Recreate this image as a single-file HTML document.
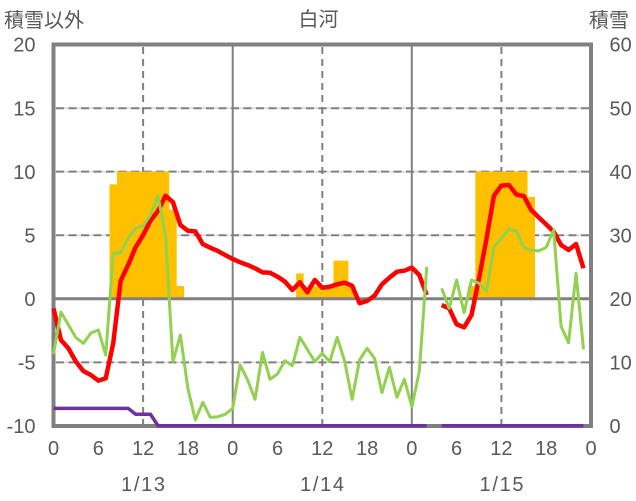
<!DOCTYPE html>
<html>
<head>
<meta charset="utf-8">
<style>
html,body{margin:0;padding:0;background:#fff;}
body{width:636px;height:501px;overflow:hidden;}
svg{display:block;}
text{font-family:"Liberation Sans","Noto Sans CJK JP",sans-serif;fill:#595959;}
</style>
</head>
<body>
<svg width="636" height="501" viewBox="0 0 636 501" xmlns="http://www.w3.org/2000/svg">
  <rect x="0" y="0" width="636" height="501" fill="#fff"/>

  <!-- light horizontal gridlines -->
  <g stroke="#d9d9d9" stroke-width="1.5">
    <line x1="53.5" y1="108.2" x2="591" y2="108.2"/>
    <line x1="53.5" y1="171.6" x2="591" y2="171.6"/>
    <line x1="53.5" y1="235.2" x2="591" y2="235.2"/>
    <line x1="53.5" y1="362.4" x2="591" y2="362.4"/>
  </g>
  <!-- dashed horizontal gridlines -->
  <g stroke="#808080" stroke-width="2" stroke-dasharray="8,4.5">
    <line x1="56" y1="108.2" x2="591" y2="108.2"/>
    <line x1="56" y1="171.6" x2="591" y2="171.6"/>
    <line x1="56" y1="235.2" x2="591" y2="235.2"/>
    <line x1="56" y1="362.4" x2="591" y2="362.4"/>
  </g>
  <!-- dashed vertical lines at 12h -->
  <g stroke="#808080" stroke-width="2" stroke-dasharray="7,5">
    <line x1="143.1" y1="47" x2="143.1" y2="426"/>
    <line x1="322.3" y1="47" x2="322.3" y2="426"/>
    <line x1="501.4" y1="47" x2="501.4" y2="426"/>
  </g>
  <!-- solid vertical day lines -->
  <g stroke="#808080" stroke-width="2">
    <line x1="232.7" y1="44.5" x2="232.7" y2="426"/>
    <line x1="411.8" y1="44.5" x2="411.8" y2="426"/>
  </g>

  <!-- data group: x = hour, y = left-axis value -->
  <g transform="matrix(7.465,0,0,-12.72,53.5,298.8)">
    <!-- snow depth bars -->
    <g fill="#FFC000">
      <polygon points="7.5,0 7.5,9 8.5,9 8.5,10 15.5,10 15.5,7 16.5,7 16.5,1 17.5,1 17.5,0"/>
      <polygon points="32.5,0 32.5,2 33.5,2 33.5,1 37.5,1 37.5,3 39.5,3 39.5,1 40.5,1 40.5,0"/>
      <polygon points="55.5,0 55.5,1 56.5,1 56.5,10 63.5,10 63.5,8 64.5,8 64.5,0"/>
    </g>
  </g>

  <!-- zero line -->
  <line x1="53.5" y1="298.8" x2="591" y2="298.8" stroke="#808080" stroke-width="3"/>

  <!-- frame -->
  <rect x="53.5" y="44.5" width="537.5" height="381.5" fill="none" stroke="#808080" stroke-width="4"/>

  <g transform="matrix(7.465,0,0,-12.72,53.5,298.8)" fill="none" stroke-linejoin="round" stroke-linecap="butt">
    <!-- red -->
    <polyline vector-effect="non-scaling-stroke" stroke="#FF0000" stroke-width="4.5" points="0,-0.75 1,-3.24 2,-3.9 3,-4.94 4,-5.68 5,-5.99 6,-6.43 7,-6.25 8,-3.5 9,1.42 10,2.66 11,4.05 12,5.0 13,6.15 14,6.9 15,8.1 16,7.6 17,5.8 18,5.35 19,5.3 20,4.3 21,4.02 22,3.76 23,3.44 24,3.13 25,2.87 26,2.66 27,2.4 28,2.08 29,2.05 30,1.74 31,1.35 32,0.69 33,1.3 34,0.51 35,1.48 36,0.87 37,0.95 38,1.14 39,1.27 40,1.03 41,-0.35 42,-0.17 43,0.24 44,1.14 45,1.66 46,2.13 47,2.21 48,2.45 49,1.87 50,0.3"/>
    <polyline vector-effect="non-scaling-stroke" stroke="#FF0000" stroke-width="4.5" points="52,-0.49 53,-0.75 54,-2.0 55,-2.24 56,-1.27 57,1.6 58,4.7 59,8.1 60,8.9 61,8.95 62,8.2 63,8.08 64,6.98 65,6.4 66,5.85 67,5.28 68,4.23 69,3.84 70,4.31 71,2.4"/>
    <!-- green -->
    <polyline vector-effect="non-scaling-stroke" stroke="#92D050" stroke-width="3" points="0,-4.35 1,-1.05 2,-2.05 3,-3.05 4,-3.5 5,-2.7 6,-2.45 7,-4.42 8,3.58 9,3.62 10,4.75 11,5.54 12,5.72 13,6.59 14,8.08 15,5.0 16,-4.94 17,-2.85 18,-7.04 19,-9.53 20,-8.14 21,-9.32 22,-9.27 23,-9.08 24,-8.61 25,-5.2 26,-6.38 27,-7.9 28,-4.21 29,-6.33 30,-5.91 31,-4.87 32,-5.26 33,-3.03 34,-3.97 35,-4.94 36,-4.29 37,-4.94 38,-3.03 39,-4.89 40,-7.9 41,-4.81 42,-3.89 43,-4.68 44,-7.38 45,-5.39 46,-7.74 47,-6.33 48,-8.48 49,-5.73 50,2.52"/>
    <polyline vector-effect="non-scaling-stroke" stroke="#92D050" stroke-width="3" points="52,0.82 53,-0.75 54,1.48 55,-1.09 56,1.48 57,1.22 58,0.56 59,4.1 60,4.75 61,5.46 62,5.35 63,4.05 64,3.84 65,3.76 66,4.05 67,5.41 68,-2.19 69,-3.45 70,2.0 71,-3.97"/>
    <!-- purple -->
    <polyline vector-effect="non-scaling-stroke" stroke="#7030A0" stroke-width="3.5" points="0,-8.61 10,-8.61 11,-9.08 13,-9.08 14,-9.98 50,-9.98"/>
    <polyline vector-effect="non-scaling-stroke" stroke="#7030A0" stroke-width="3.5" points="52,-9.98 71,-9.98"/>
  </g>

  <!-- titles -->
  <text x="4" y="27" font-size="20">積雪以外</text>
  <text x="318.5" y="26" font-size="20" text-anchor="middle">白河</text>
  <text x="589" y="27" font-size="20">積雪</text>

  <!-- left axis labels -->
  <g font-size="20" text-anchor="end">
    <text x="35.5" y="51.7">20</text>
    <text x="35.5" y="115.4">15</text>
    <text x="35.5" y="178.8">10</text>
    <text x="35.5" y="242.4">5</text>
    <text x="35.5" y="306">0</text>
    <text x="35.5" y="369.6">-5</text>
    <text x="35.5" y="433.2">-10</text>
  </g>
  <!-- right axis labels -->
  <g font-size="20">
    <text x="609.5" y="51.7">60</text>
    <text x="609.5" y="115.4">50</text>
    <text x="609.5" y="178.8">40</text>
    <text x="609.5" y="242.4">30</text>
    <text x="609.5" y="306">20</text>
    <text x="609.5" y="369.6">10</text>
    <text x="609.5" y="433.2">0</text>
  </g>
  <!-- x axis labels -->
  <g font-size="20" text-anchor="middle">
    <text x="53.5" y="455">0</text>
    <text x="98.3" y="455">6</text>
    <text x="143.1" y="455">12</text>
    <text x="187.9" y="455">18</text>
    <text x="232.7" y="455">0</text>
    <text x="277.5" y="455">6</text>
    <text x="322.3" y="455">12</text>
    <text x="367.1" y="455">18</text>
    <text x="411.8" y="455">0</text>
    <text x="456.6" y="455">6</text>
    <text x="501.4" y="455">12</text>
    <text x="546.2" y="455">18</text>
    <text x="591" y="455">0</text>
  </g>
  <g font-size="20">
    <text x="121" y="491" textLength="44" lengthAdjust="spacing">1/13</text>
    <text x="300" y="491" textLength="44" lengthAdjust="spacing">1/14</text>
    <text x="479.5" y="491" textLength="44" lengthAdjust="spacing">1/15</text>
  </g>
</svg>
</body>
</html>
